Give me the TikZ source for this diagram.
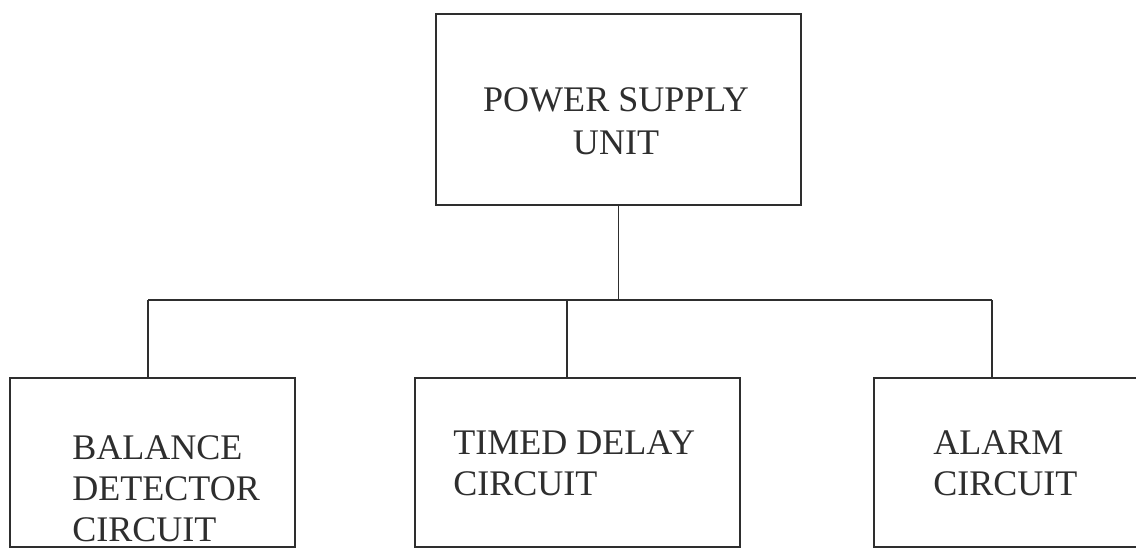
\documentclass[tikz,border=0pt]{standalone}
\usepackage{fontspec}
\setmainfont{Liberation Serif}
\usepackage{xcolor}
\usetikzlibrary{positioning}
\definecolor{ink}{HTML}{2E2E2E}

\begin{document}
\begin{tikzpicture}[x=0.02cm,y=-0.02cm,
  blk/.style={draw=ink,line width=0.8pt,inner sep=0pt},
  lbl/.style={inner sep=0pt,align=left,text=ink,font=\fontsize{20.5}{23.5}\selectfont},
  wire/.style={draw=ink,line width=0.8pt}]
\useasboundingbox (0,0) rectangle (1136,549);
\clip (0,0) rectangle (1136,549);
% boxes
\node[blk,minimum width=7.3cm,minimum height=3.82cm] (pwr) at (618.5,109.5) {};
\node[blk,minimum width=5.7cm,minimum height=3.38cm] (bal) at (152.5,462.5) {};
\node[blk,minimum width=6.5cm,minimum height=3.38cm] (tmd) at (577.5,462.5) {};
\node[blk,minimum width=5.52cm,minimum height=3.38cm] (alm) at (1012,462.5) {};
% labels
\node[lbl,align=center,anchor=north,font=\fontsize{20.5}{24.5}\selectfont] (pwrT) at (616,87) {POWER SUPPLY\\UNIT};
\node[lbl,anchor=north west] (balT) at (72,435) {BALANCE\\DETECTOR\\CIRCUIT};
\node[lbl,anchor=north west] (tmdT) at (453,430) {TIMED DELAY\\CIRCUIT};
\node[lbl,anchor=north west] (almT) at (933,430) {ALARM\\CIRCUIT};
% bus
\coordinate (busL) at (148,300);
\coordinate (busM) at (567,300);
\coordinate (busR) at (992,300);
\draw[wire] (pwr.south) -- (pwr.south |- busL);
\draw[wire] (busL) -- (busR);
\draw[wire] (busL) -- (busL |- bal.north);
\draw[wire] (busM) -- (busM |- tmd.north);
\draw[wire] (busR) -- (busR |- alm.north);
\end{tikzpicture}
\end{document}
